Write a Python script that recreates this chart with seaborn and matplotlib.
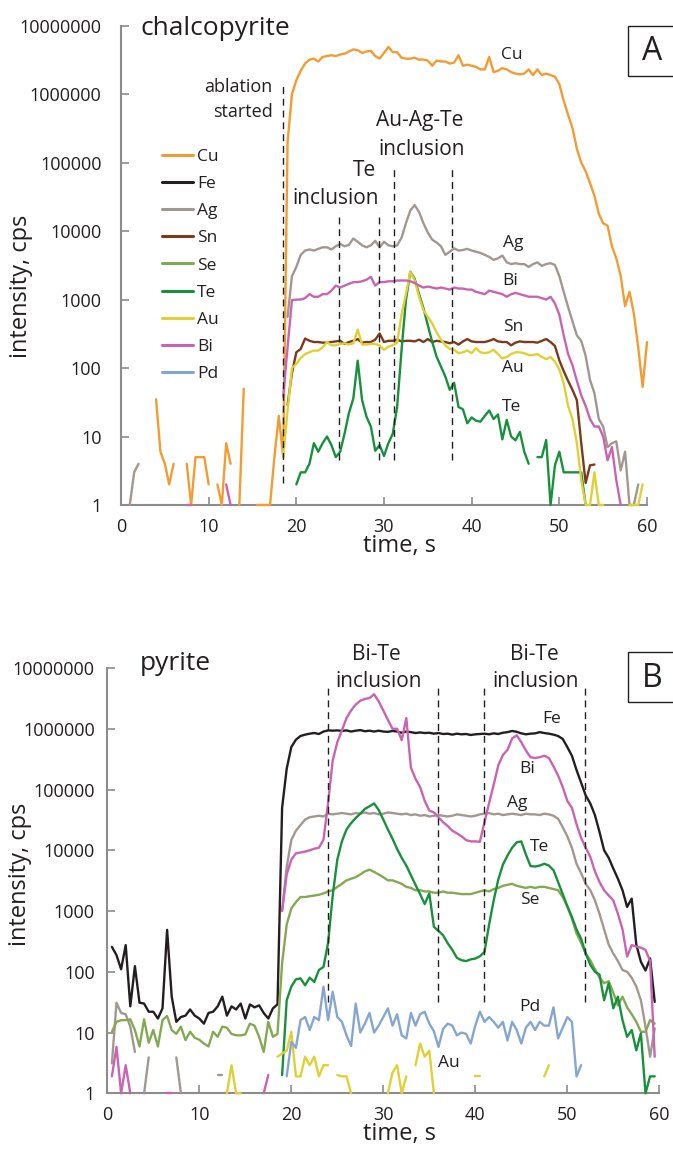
import numpy as np
import pandas as pd
import matplotlib.pyplot as plt
import seaborn as sns
from matplotlib.lines import Line2D
from matplotlib.patches import Rectangle
from matplotlib.ticker import FuncFormatter, NullLocator

# sweep interval of the time-resolved signal, s
step = 0.5
N = None

elements = ['Cu', 'Fe', 'Ag', 'Sn', 'Se', 'Te', 'Au', 'Bi', 'Pd']
colors = ['#F39C33', '#231F20', '#A39791', '#7B3A1C', '#84A954',
          '#19903E', '#E0D036', '#C964B1', '#85A6D0']

# ---- panel A, chalcopyrite: (start time, counts per sweep), None = no signal
cu_a = [(4.0, [35, 6, 4, 2, 4, N, N, 4, 1, 5, 5, 5, 2, N, 2, 1, 8, 4, N, 1, 50, N, N,
               1, 1, 1, 1, 5, 20, 5, 2e5, 1e6, 1.6e6, 2.2e6, 2.8e6, 3.2e6, 3.3e6, 3.0e6,
               3.5e6, 3.6e6, 3.7e6, 3.6e6, 3.8e6, 3.9e6, 4.2e6, 4.5e6, 4.4e6, 4.0e6, 4.2e6,
               4.3e6, 3.6e6, 3.3e6, 4.0e6, 4.9e6, 4.1e6, 4.1e6, 3.4e6, 3.3e6, 3.3e6, 3.4e6,
               3.2e6, 3.2e6, 3.1e6, 2.6e6, 3.1e6, 3.0e6, 3.0e6, 2.8e6, 2.9e6, 3.7e6, 2.6e6,
               2.7e6, 2.6e6, 2.5e6, 2.3e6, 2.3e6, 3.5e6, 2.1e6, 2.2e6, 2.4e6, 2.3e6, 2.1e6,
               2.0e6, 1.95e6, 2.0e6, 2.3e6, 1.9e6, 2.3e6, 1.9e6, 2.0e6, 1.9e6, 1.8e6, 1.4e6,
               8e5, 5e5, 3.2e5, 1.6e5, 1.0e5, 7.5e4, 5e4, 3.3e4, 1.8e4, 1.3e4, 1.2e4, 6e3,
               4e3, 2.2e3, 800, 1.3e3, 630, 200, 53, 240])]
ag_a = [(1.0, [1, 3, 4]),
        (19.0, [560, 2200, 3000, 4500, 5200, 5400, 5200, 5500, 5800, 5800, 5400, 6000,
                6500, 6000, 6300, 7800, 7000, 6200, 5800, 6200, 7200, 5800, 7000, 6200,
                6000, 6200, 8000, 13000, 20000, 24000, 19000, 13000, 9500, 7500, 6800,
                6000, 4500, 5000, 5600, 5200, 5300, 5500, 5200, 5000, 4800, 4500, 4200,
                3800, 4000, 4400, 3500, 3300, 3400, 3300, 3300, 3000, 3300, 3500, 3100,
                3300, 3400, 3200, 2200, 1300, 780, 480, 300, 250, 150, 67, 43, 18, 14, 7,
                8, 8.5, 3.2, 6, 1, 1, 2])]
sn_a = [(19.0, [29, 84, 170, 190, 270, 250, 240, 240, 235, 235, 240, 245, 250, 225, 240,
                250, 265, 235, 240, 240, 260, 320, 240, 250, 250, 260, 245, 250, 250, 245,
                260, 240, 265, 240, 250, 245, 240, 230, 240, 220, 245, 265, 245, 240, 240,
                240, 250, 265, 245, 240, 240, 215, 235, 245, 240, 240, 240, 235, 250, 265,
                240, 210, 130, 90, 65, 48, 34, 8, 2.1, 3.8, 3.9])]
te_a = [(20.0, [2, 3, 3, 4, 8, 6, 8, 10, 7.5, 5, 6, 11, 22, 36, 128, 34, 19.5, 14, 6.2,
                7.5, 5.2, 8, 11, 27, 182, 980, 2550, 2000, 1200, 750, 420, 240, 146, 105,
                75, 48, 61, 27, 25, 15.6, 19, 17, 16.5, 20, 24, 18, 21, 9.1, 17.5, 10, 8.8,
                11.7, 6, 4]),
        (47.5, [5, 5, 8.9, 1, 3.8, 6, 3, 3, 3, 3, 3, 1])]
au_a = [(18.5, [5, 24, 100, 115, 140, 160, 170, 180, 180, 200, 240, 215, 215, 225, 230,
                220, 230, 365, 220, 220, 225, 225, 215, 185, 205, 215, 235, 600, 1200, 2550,
                1900, 1100, 700, 560, 450, 330, 260, 215, 190, 185, 165, 170, 180, 165, 195,
                170, 165, 170, 185, 160, 138, 145, 160, 170, 170, 165, 155, 155, 160, 145,
                135, 145, 124, 95, 60, 28, 18, 8, 2.3, 1, 1, 3, 1, 1]),
        (58.0, [1, 1, 1, 2])]
bi_a = [(7.5, [1, 1]), (12.0, [2, 1]),
        (18.5, [38, 200, 980, 1000, 1000, 1050, 1200, 1100, 1100, 1200, 1200, 1350, 1600,
                1500, 1600, 1700, 1800, 1800, 1850, 1950, 2150, 1600, 1800, 1800, 1850, 1850,
                1900, 1900, 1900, 1850, 1750, 1600, 1500, 1550, 1500, 1450, 1500, 1450, 1400,
                1500, 1450, 1450, 1400, 1400, 1300, 1250, 1200, 1350, 1300, 1250, 1200, 1100,
                1200, 1250, 1200, 1150, 1100, 1100, 1100, 1050, 1000, 1100, 880, 600, 300,
                160, 110, 65, 40, 28, 18, 14, 14, 10, 4.5, 7, 2.3, 1])]

# ---- panel B, pyrite
fe_b = [(0.5, [257, 188, 110, 275, 27, 124, 31, 30, 22, 22, 17, 25, 490, 39, 15, 18, 19,
               24, 19, 17, 14, 21, 22, 27, 39, 19, 27, 24, 30, 17, 29, 26, 28, 21, 17, 25,
               29, 5e4, 2.2e5, 5e5, 6.6e5, 7.6e5, 8e5, 8.3e5, 8.5e5, 8.2e5, 9e5, 9.4e5,
               9.3e5, 9.4e5, 9.2e5, 9.4e5, 9.0e5, 9.3e5, 9.5e5, 9.1e5, 9.3e5, 9.0e5, 9.3e5,
               9.0e5, 8.9e5, 9.2e5, 9.0e5, 8.6e5, 9.0e5, 8.8e5, 8.5e5, 8.7e5, 8.5e5, 8.6e5,
               8.3e5, 8.5e5, 8.2e5, 8.3e5, 8.0e5, 8.3e5, 8.1e5, 8.2e5, 7.9e5, 8.1e5, 8.2e5,
               8.3e5, 8.1e5, 8.4e5, 8.2e5, 8.6e5, 8.8e5, 9.2e5, 8.9e5, 8.4e5, 8.1e5, 8.3e5,
               8.4e5, 8.8e5, 8.5e5, 8.3e5, 8.0e5, 7.6e5, 6.8e5, 5e5, 3.6e5, 2.1e5, 1.3e5,
               8e4, 5.9e4, 3.8e4, 2e4, 1e4, 7.5e3, 5e3, 3.4e3, 2.2e3, 1.17e3, 1.6e3, 280,
               146, 105, 166, 32])]
ag_b = [(0.5, [3.1, 31, 21, 20, 12.5, 4.8]), (4.0, [1, 3.9]), (7.5, [3.9, 1]),
        (12.0, [2, 2]),
        (19.0, [1000, 5300, 14700, 21000, 26000, 32000, 35000, 36000, 37000, 36000, 40000,
                39000, 40000, 41000, 40000, 39000, 41000, 40000, 42000, 40000, 41000, 39000,
                40000, 42000, 41000, 40000, 39000, 40000, 38000, 39000, 37000, 38000, 36000,
                37000, 38000, 37000, 36000, 37000, 39000, 38000, 37000, 36000, 37000, 39000,
                40000, 41000, 39000, 40000, 38000, 39000, 40000, 39000, 38000, 40000, 39000,
                39000, 38000, 40000, 39000, 37000, 33000, 24000, 17000, 11000, 6000, 4200,
                2800, 2200, 1500, 900, 500, 280, 200, 150, 107, 100, 80, 57, 34, 12.5, 4,
                11.7])]
se_b = [(0.5, [10.3, 15, 16, 16, 16.5, 11, 5.9, 16.5, 6.8, 11, 5.9, 16, 18.7, 11, 9.5,
               12.5, 7.5, 10.3, 8.2, 7.6, 6.6, 5.9, 10.3, 8.5, 12.5, 12, 9.5, 9, 9, 9.3, 14,
               13, 8.5, 4.8, 15, 8.5, 9.5, 138, 600, 1100, 1400, 1700, 1700, 1750, 1800,
               1850, 1950, 2100, 2200, 2500, 2800, 3200, 3400, 3600, 4000, 4500, 4800, 4400,
               4000, 3600, 3200, 3200, 3000, 2800, 2500, 2400, 2200, 2200, 2100, 2100, 2000,
               2000, 2100, 2000, 2000, 1950, 1900, 1900, 1900, 2000, 2100, 2200, 2100, 2300,
               2400, 2600, 2700, 2800, 2600, 2500, 2400, 2500, 2400, 2500, 2500, 2400, 2300,
               2200, 1700, 1200, 750, 430, 300, 200, 155, 110, 80, 65, 70, 45, 28, 39, 26,
               20, 15, 10.3, 10.3, 16, 14])]
te_b = [(19.0, [2, 34, 57, 75, 78, 60, 80, 68, 107, 120, 300, 1800, 7000, 14000, 22000,
                28000, 34000, 40000, 48000, 53000, 59000, 46000, 32000, 22000, 15500, 10500,
                7500, 5600, 3900, 2700, 1900, 1300, 1950, 550, 470, 400, 295, 229, 170, 155,
                150, 160, 165, 180, 213, 600, 1500, 3300, 5800, 8200, 11000, 13500, 14000,
                8500, 5500, 5400, 5600, 6000, 5600, 4700, 3000, 1900, 1200, 800, 500, 350,
                200, 130, 100, 90, 34, 65, 25, 39, 16, 8.5, 11, 5.1, 9.7, 1, 1.9, 1.9])]
au_b = [(13.0, [1, 2.9, 1, 1]),
        (18.5, [4, 4.5, 5, 10.3, 1.9, 1.9, 4, 2.9, 4, 1.9, 2.9, 2.9]),
        (25.0, [2, 1.9, 1.9, 1]), (30.5, [1, 2.2, 2.9, 1, 1.9]),
        (33.5, [2.9, 6.6, 4, 5, 1]), (40.0, [1.9, 1.9]), (47.5, [1.9, 2.9])]
bi_b = [(0.5, [1.9, 5.8, 1, 2.9, 1]), (6.5, [1, 1]), (17.0, [1, 2]),
        (19.0, [1000, 4000, 7000, 8900, 9200, 9500, 10000, 10600, 11000, 15000, 60000,
                3e5, 6e5, 9.4e5, 1.5e6, 2.0e6, 2.5e6, 2.9e6, 3.1e6, 3.2e6, 3.7e6, 2.8e6,
                2.0e6, 1.4e6, 1.0e6, 1.0e6, 6.5e5, 1.5e6, 2.3e5, 1.5e5, 1.1e5, 6.5e4, 4.5e4,
                4.2e4, 3.5e4, 2.9e4, 2.5e4, 2.1e4, 1.9e4, 1.7e4, 1.47e4, 1.4e4, 1.4e4,
                1.38e4, 2.9e4, 6e4, 1.2e5, 2.5e5, 3.7e5, 4.5e5, 6.9e5, 7.8e5, 6e5, 4.4e5,
                3.4e5, 3.3e5, 3.4e5, 3.6e5, 3.3e5, 2.4e5, 1.7e5, 1.1e5, 6.5e4, 5e4, 2.7e4,
                1.6e4, 1.1e4, 7.8e3, 4.5e3, 3e3, 2.2e3, 1.8e3, 1.5e3, 900, 500, 178, 275,
                260, 250, 229, 150, 4])]
pd_b = [(19.5, [1.9, 7, 5.6, 16, 18, 11, 18, 16, 57, 16, 47, 18, 15, 9, 6, 30, 10, 14, 21,
                10, 13, 18, 25, 13, 20, 9, 8, 21, 13, 20, 22, 14, 10.5, 5.8, 11.5, 14, 13,
                9, 10, 9.5, 6.6, 13, 22, 15, 18, 15, 12, 15, 7.4, 15, 11, 6.6, 12, 15, 11,
                15, 13, 13, 26, 8, 12, 18, 15, 1.9, 2.9])]

panel_a = {'Cu': cu_a, 'Ag': ag_a, 'Sn': sn_a, 'Te': te_a, 'Au': au_a, 'Bi': bi_a}
panel_b = {'Fe': fe_b, 'Ag': ag_b, 'Se': se_b, 'Te': te_b, 'Au': au_b, 'Bi': bi_b,
           'Pd': pd_b}

# inclusion / ablation markers: (time, from cps, to cps)
marks_a = [(18.5, 2.1, 1.5e6), (24.9, 4.5, 1.9e4), (29.45, 4.5, 1.9e4),
           (31.1, 4.5, 8.3e4), (37.8, 4.5, 8.3e4)]
marks_b = [(24.0, 32, 5.5e6), (35.9, 32, 5.5e6), (40.95, 32, 5.5e6), (51.9, 32, 5.5e6)]

# element labels next to the curves: (text, time, cps)
tags_a = [('Cu', 44.55, 3.7e6), ('Ag', 44.7, 6.6e3), ('Bi', 44.4, 1.88e3),
          ('Sn', 44.7, 400), ('Au', 44.7, 99), ('Te', 44.55, 27)]
tags_b = [('Fe', 48.3, 1.47e6), ('Bi', 45.6, 2.2e5), ('Ag', 44.5, 5.9e4),
          ('Te', 47.0, 1.14e4), ('Se', 45.9, 1.5e3), ('Pd', 45.9, 26.6), ('Au', 37.1, 3.1)]
notes_a = [('Au-Ag-Te', 34.1, 4.1e5), ('inclusion', 34.3, 1.56e5),
           ('Te', 27.8, 7.8e4), ('inclusion', 24.5, 3.0e4)]
notes_b = [('Bi-Te', 29.3, 1.67e7), ('inclusion', 29.5, 5.9e6),
           ('Bi-Te', 46.4, 1.67e7), ('inclusion', 46.6, 5.9e6)]


def long_frame(panel):
    rows = []
    for el, segments in panel.items():
        for j, (start, vals) in enumerate(segments):
            run = 0
            for k, v in enumerate(vals):
                if v is None:
                    run += 1
                    continue
                rows.append((el, round(start + step * k, 2), v, f'{el}-{j}-{run}'))
    return pd.DataFrame(rows, columns=['element', 'time', 'cps', 'run'])


sns.set_style('ticks')
plt.rcParams['font.family'] = ['Open Sans', 'DejaVu Sans']
plt.rcParams['text.color'] = '#231F20'
ink = '#231F20'
axis_grey = '#8C8C8C'
palette = dict(zip(elements, colors))

fig = plt.figure(figsize=(6.73, 11.53), dpi=100)
axA = fig.add_axes([121 / 673, 1 - 505 / 1153, 526 / 673, 479.3 / 1153])
axB = fig.add_axes([107.3 / 673, 1 - 1093.3 / 1153, 552 / 673, 425.3 / 1153])

for ax, panel, ypad in [(axA, panel_a, 14), (axB, panel_b, 9)]:
    df = long_frame(panel)
    ax.set_yscale('log')
    sns.lineplot(data=df, x='time', y='cps', hue='element', units='run', estimator=None,
                 palette=palette, hue_order=[e for e in elements if e in panel],
                 legend=False, linewidth=1.7, clip_on=False, zorder=3, ax=ax)
    ax.set_xlim(0, 60)
    ax.set_ylim(1, 1e7)
    ax.set_xticks(range(0, 61, 10))
    ax.set_yticks([10 ** p for p in range(8)])
    ax.yaxis.set_minor_locator(NullLocator())
    ax.yaxis.set_major_formatter(FuncFormatter(lambda v, p: f'{v:.0f}'))
    ax.tick_params(direction='in', length=6, width=1.2, color=axis_grey,
                   labelcolor=ink, labelsize=13)
    ax.tick_params(axis='x', pad=9)
    ax.tick_params(axis='y', pad=ypad)
    sns.despine(ax=ax)
    for s in ['left', 'bottom']:
        ax.spines[s].set_color(axis_grey)
        ax.spines[s].set_linewidth(1.5)
    ax.set_xlabel('time, s', fontsize=17, color=ink)
    ax.set_ylabel('intensity, cps', fontsize=17, color=ink, va='center')

axA.xaxis.set_label_coords(0.53, -0.060)
axB.xaxis.set_label_coords(0.53, -0.068)
axA.yaxis.set_label_coords(-0.190, 0.457)
axB.yaxis.set_label_coords(-0.158, 0.516)

for ax, marks in [(axA, marks_a), (axB, marks_b)]:
    for t, lo, hi in marks:
        ax.vlines(t, lo, hi, colors=ink, linestyles=(0, (5, 3.5)), linewidth=1.0, zorder=4)

for ax, tags in [(axA, tags_a), (axB, tags_b)]:
    for s, t, v in tags:
        ax.text(t, v, s, fontsize=12.5, ha='center', va='center')

for ax, notes in [(axA, notes_a), (axB, notes_b)]:
    for s, t, v in notes:
        ax.text(t, v, s, fontsize=15, ha='center', va='center', clip_on=False)

axA.text(17.3, 1.28e6, 'ablation', fontsize=13, ha='right', va='center')
axA.text(17.3, 5.5e5, 'started', fontsize=13, ha='right', va='center')
axA.text(2.17, 0.9e7, 'chalcopyrite', fontsize=19, ha='left', va='center', clip_on=False)
axB.text(3.55, 1.2e7, 'pyrite', fontsize=19, ha='left', va='center', clip_on=False)

# panel letters in open boxes at the right edge
for y0, letter, base in [(1 - 75.7 / 1153, 'A', 1 - 60 / 1153),
                         (1 - 702.3 / 1153, 'B', 1 - 686.7 / 1153)]:
    fig.patches.append(Rectangle((627.7 / 673, y0), 0.1, 50 / 1153, fill=False,
                                 edgecolor=ink, linewidth=1.0,
                                 transform=fig.transFigure, figure=fig))
    fig.text(652.5 / 673, base, letter, fontsize=23, ha='center', va='baseline')

handles = [Line2D([], [], color=c, linewidth=2.2) for c in colors]
axA.legend(handles, elements, loc='upper left',
           bbox_to_anchor=(161.7 / 673, 1 - 149 / 1153), bbox_transform=fig.transFigure,
           frameon=False, fontsize=12.5, handlelength=1.8, handletextpad=0.25,
           labelspacing=0.63, borderpad=0, borderaxespad=0)

fig.savefig('out.png', dpi=100)
